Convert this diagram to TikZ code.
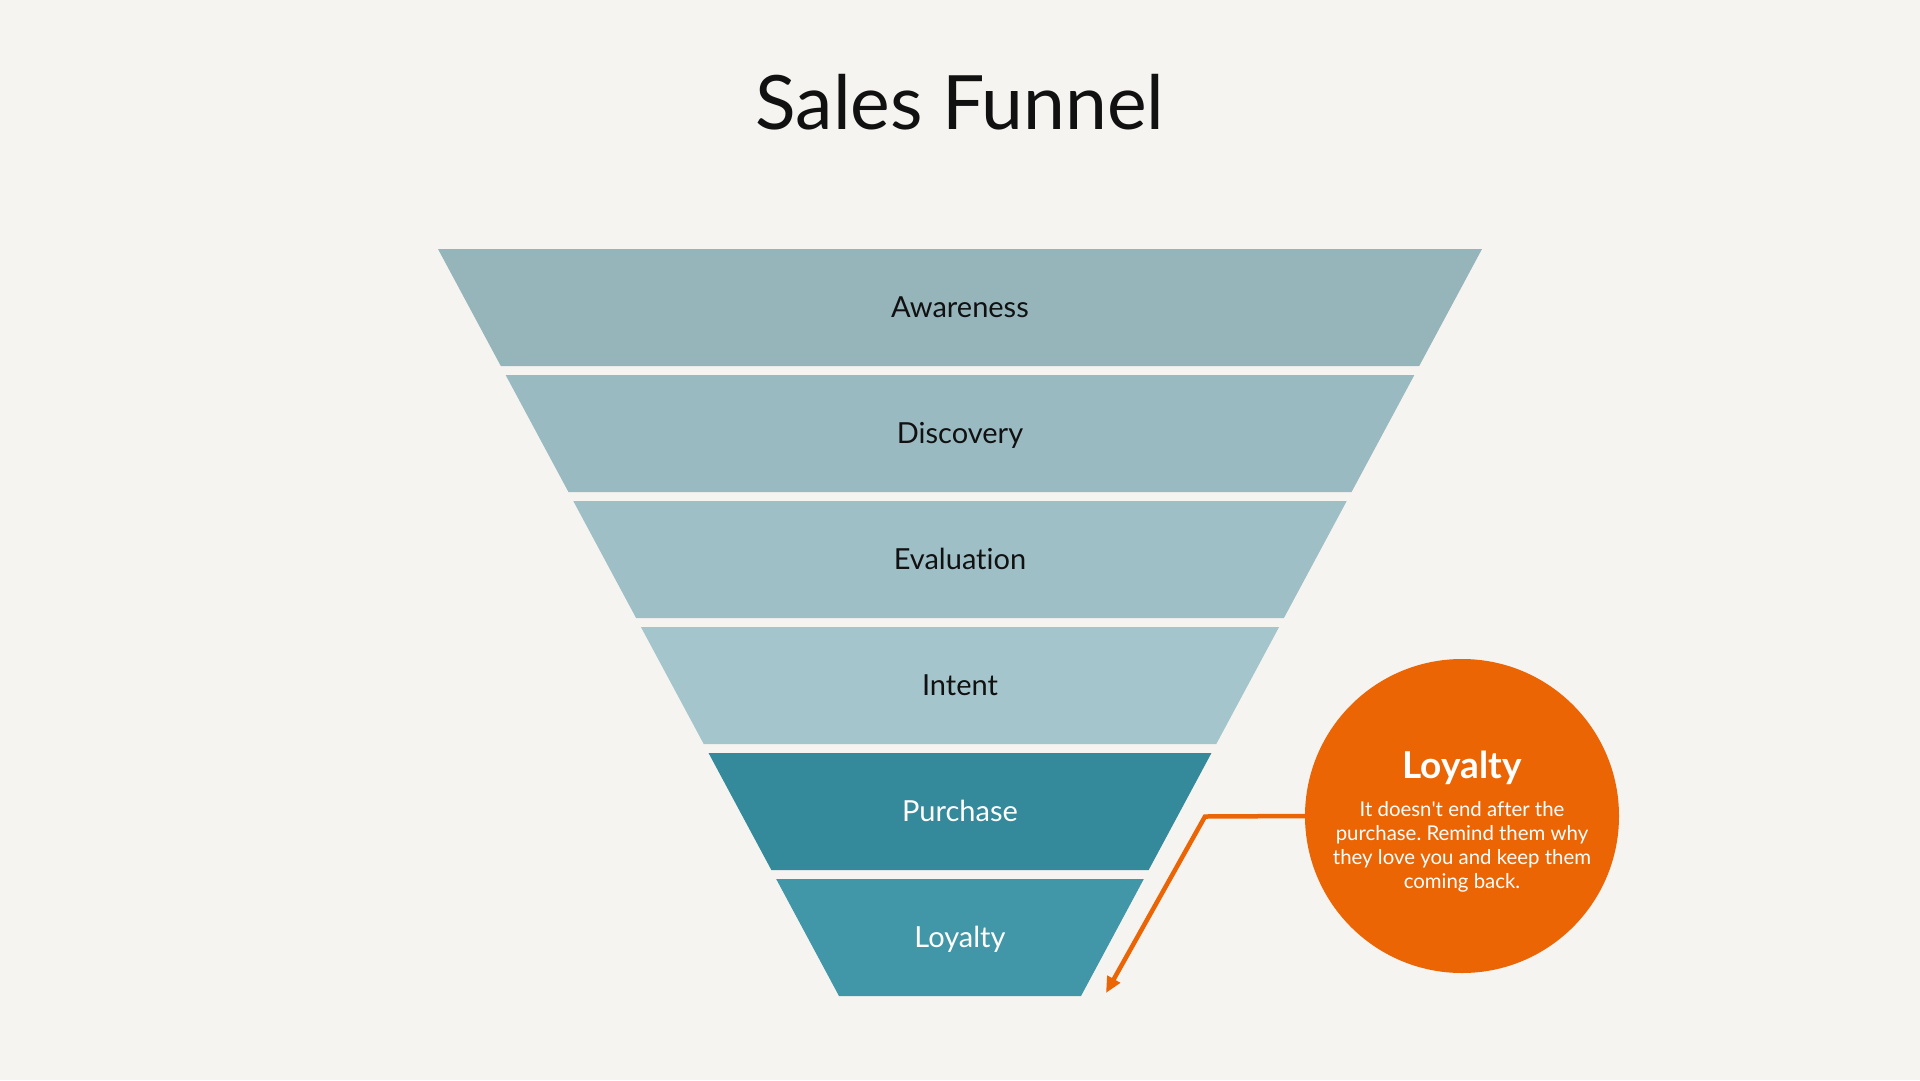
\documentclass[tikz,border=0pt]{standalone}
\usepackage{fontspec}
\setmainfont{Lato}[Ligatures={NoCommon}]
\usetikzlibrary{arrows.meta}
\definecolor{bgc}{RGB}{245,244,241}
\definecolor{bandA}{RGB}{149,181,186}
\definecolor{bandB}{RGB}{154,186,193}
\definecolor{bandC}{RGB}{159,191,198}
\definecolor{bandD}{RGB}{165,197,204}
\definecolor{bandE}{RGB}{52,137,154}
\definecolor{bandF}{RGB}{65,150,168}
\definecolor{orng}{RGB}{235,101,5}
\definecolor{inkc}{RGB}{17,17,17}
\tikzset{
  bandlabel/.style={font=\fontsize{29}{34}\selectfont, inner sep=0pt, anchor=base},
  connector/.style={draw=orng, line width=4.5pt, -{Triangle[length=16pt,width=14pt]}},
}
\frenchspacing
\begin{document}
\begin{tikzpicture}[x=1pt,y=-1pt]
\fill[bgc] (0,0) rectangle (1920,1080);
\useasboundingbox (0,0) rectangle (1920,1080);
\node[font=\fontsize{75}{90}\selectfont, text=inkc, inner sep=0pt, anchor=base] (title) at (960,129) {Sales Funnel};
\foreach \k/\col/\txt/\tc/\nm in {0/bandA/Awareness/inkc/aw,1/bandB/Discovery/inkc/di,2/bandC/Evaluation/inkc/ev,3/bandD/Intent/inkc/in,4/bandE/Purchase/white/pu,5/bandF/Loyalty/white/lo}{
  \pgfmathsetmacro{\ytop}{249+126*\k}
  \pgfmathsetmacro{\ybot}{\ytop+117}
  \pgfmathsetmacro{\hwt}{522-0.5368*(\ytop-249)}
  \pgfmathsetmacro{\hwb}{522-0.5368*(\ybot-249)}
  \pgfmathsetmacro{\ybase}{(\ytop+\ybot)/2+10}
  \fill[\col] (960-\hwt,\ytop) -- (960+\hwt,\ytop) -- (960+\hwb,\ybot) -- (960-\hwb,\ybot) -- cycle;
  \node[bandlabel, text=\tc] (\nm) at (960,\ybase) {\txt};
}
\node[circle, fill=orng, minimum size=314pt, inner sep=0pt] (circ) at (1462,816) {};
\node[font=\bfseries\fontsize{37}{44}\selectfont, text=white, inner sep=0pt, anchor=base] (head) at (1462,778) {Loyalty};
\node[font=\fontsize{20.4}{24}\selectfont, text=white, align=center, inner sep=0pt] (body) at (1462,846.5)
  {It doesn\textquotesingle t end after the\\purchase. Remind them why\\they love you and keep them\\coming back.};
\coordinate (bend) at (1205,816.5);
\coordinate (tip) at (1106,993);
\draw[connector, line join=miter] (circ.west) -- (bend) -- (tip);
\end{tikzpicture}
\end{document}
